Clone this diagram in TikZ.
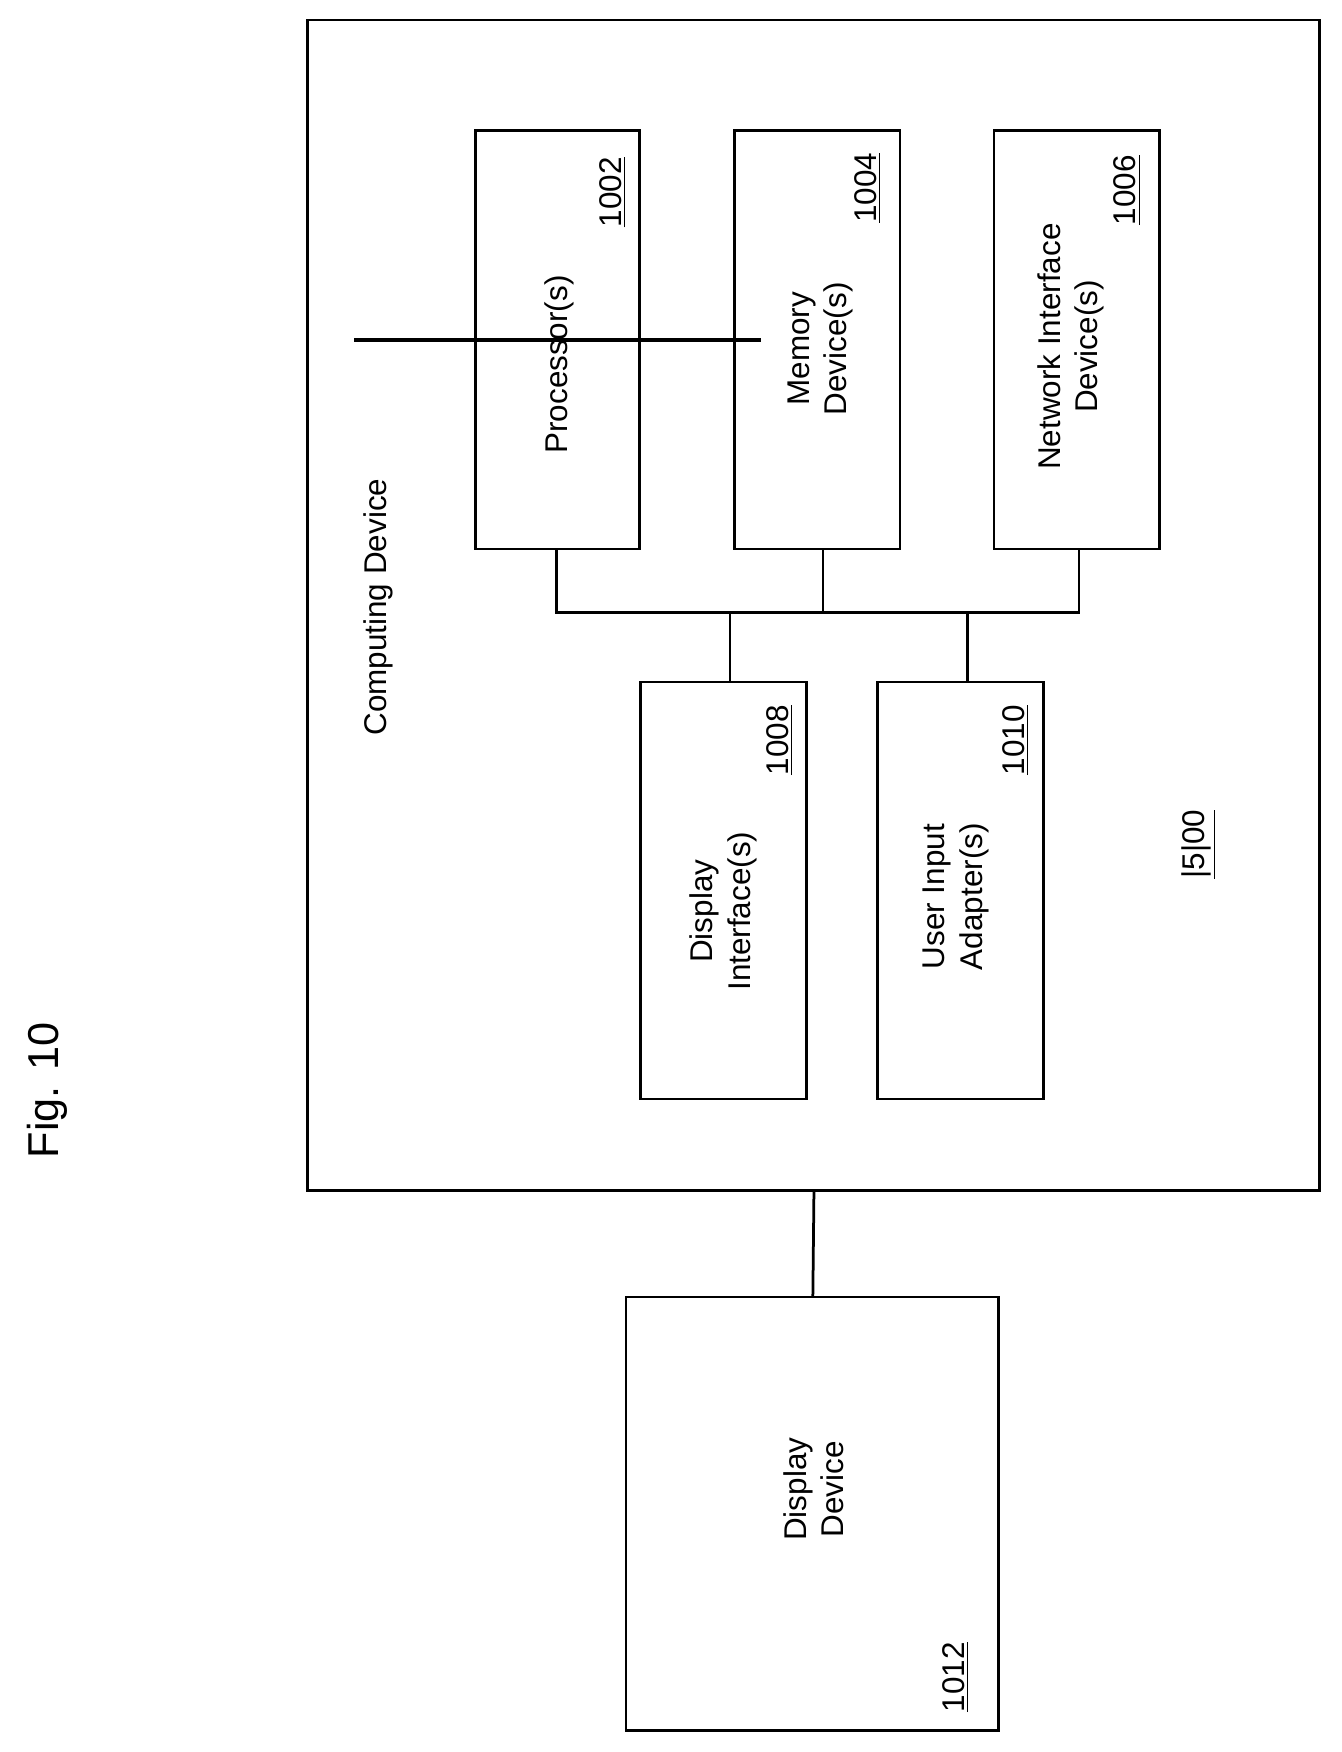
\documentclass[tikz,border=0pt]{standalone}
\usepackage{fontspec}
\setmainfont{Liberation Sans}
\usetikzlibrary{positioning}

\begin{document}
\begin{tikzpicture}[
  x=0.02cm, y=-0.02cm,
  font=\fontsize{16}{19}\selectfont,
  box/.style={draw, line width=1.4pt},
  lbl/.style={rotate=90, align=center},
  ref/.style={rotate=90},
  wire/.style={line width=1.4pt}
]
\useasboundingbox (0,0) rectangle (1200,1567);

% Outer device and its parts
\draw[box] (275,18) rectangle (1180,1065);
\coordinate (outerbot) at (728,1065);
\node[box, minimum width=147\pgflinewidth, inner sep=0pt] (proc) at (498.5,304) {};
\draw[box] (425,117) rectangle (572,491);
\draw[box] (657,117) rectangle (805,491);
\draw[box] (889,117) rectangle (1037,491);
\draw[box] (573,610) rectangle (721,983);
\draw[box] (785,610) rectangle (933,983);
\draw[box] (560,1160) rectangle (893,1548);

% Labels
\node[rotate=90, font=\fontsize{22}{26}\selectfont] (fig) at (42,975) {Fig. 10};
\node[lbl] (comp) at (338,543) {Computing Device};
\node[lbl] (proclbl) at (500,326) {Processor(s)};
\node[ref] (proc) at (548,172) {\underline{1002}};
\node[lbl] (memlbl) at (734,312) {Memory\\Device(s)};
\node[ref] (mem) at (776,168) {\underline{1004}};
\node[lbl] (netlbl) at (958,310) {Network Interface\\Device(s)};
\node[ref] (net) at (1008,170) {\underline{1006}};
\node[lbl] (displbl) at (647,815) {Display\\Interface(s)};
\node[ref] (disp) at (697,662) {\underline{1008}};
\node[lbl] (uilbl) at (855,802) {User Input\\Adapter(s)};
\node[ref] (ui) at (908,662) {\underline{1010}};
\node[ref] (dev) at (1072,755) {\underline{|5|00}};
\node[lbl] (ddlbl) at (728,1332) {Display\\Device};
\node[ref] (dd) at (855,1500) {\underline{1012}};

% Bus
\coordinate (busL) at (498,548);
\coordinate (busR) at (965,548);
\draw[wire] (498,491) -- (busL) -- (busR) -- (965,491);
\draw[wire] (736,491) -- (736,548);
\draw[wire] (653,548) -- (653,610);
\draw[wire] (865,548) -- (865,610);
\draw[wire] (outerbot) -- (727,1160);
\end{tikzpicture}
\end{document}
